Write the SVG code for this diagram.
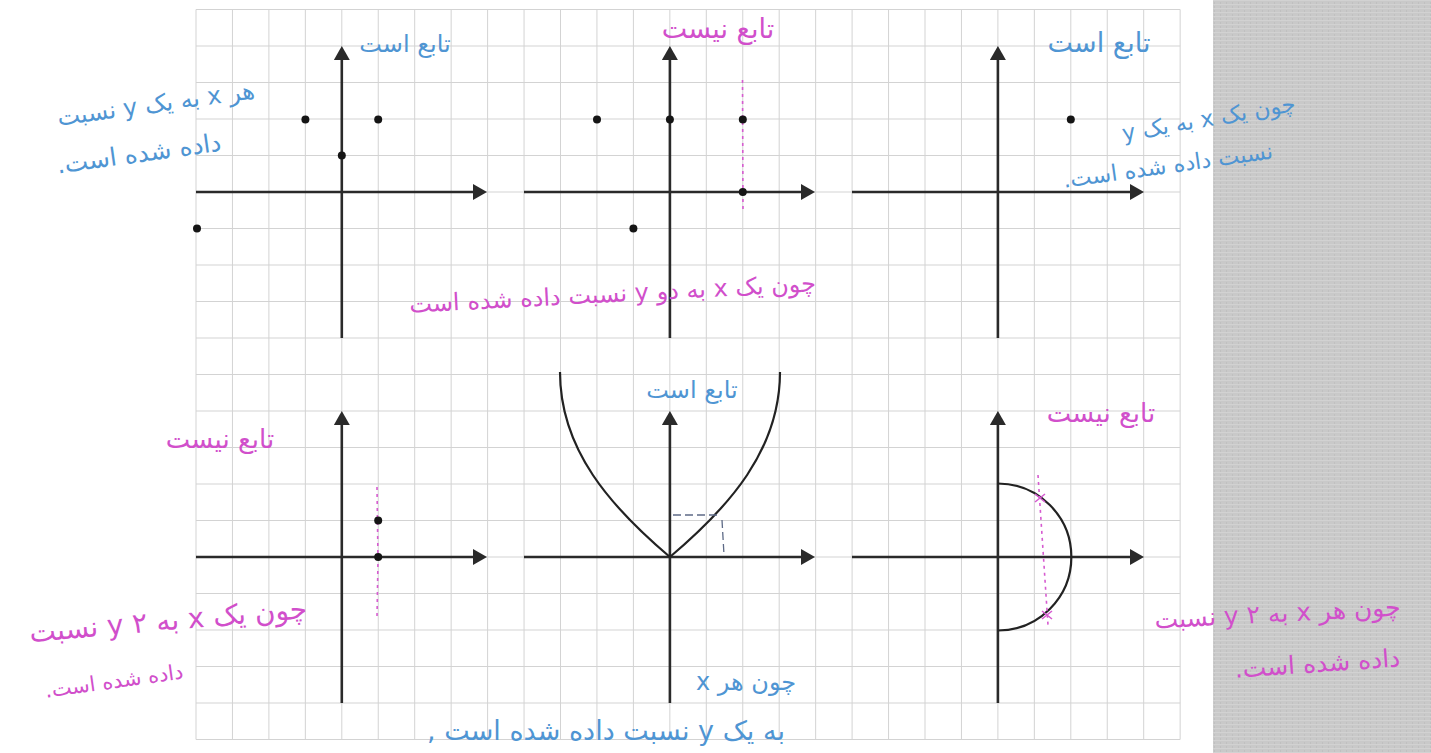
<svg xmlns="http://www.w3.org/2000/svg" width="1431" height="753" viewBox="0 0 1431 753">
<defs>
<style>
.grid line{stroke:#d3d3d3;stroke-width:1}
.axa{stroke:#2a2a2a;stroke-width:2.6;fill:none;marker-end:url(#ah)}
.pt{fill:#151515}
.crv{stroke:#222;stroke-width:2.2;fill:none}
.pk{stroke:#d65bd0;stroke-width:1.6;fill:none;stroke-dasharray:3 4}
.tb{fill:#4f95d3;font-family:"DejaVu Sans",sans-serif}
.tm{fill:#d14fcb;font-family:"DejaVu Sans",sans-serif}
text{direction:rtl;text-anchor:middle}
</style>
<marker id="ah" viewBox="0 0 14 16" refX="10" refY="8" markerWidth="14" markerHeight="16" markerUnits="userSpaceOnUse" orient="auto">
<path d="M0,0 L14,8 L0,16 Z" fill="#2a2a2a"/>
</marker>
<pattern id="paper" width="6" height="4" patternUnits="userSpaceOnUse">
<rect width="6" height="4" fill="#c9c9c9"/>
<rect width="6" height="1" fill="#d2d2d2"/>
<rect x="2" y="2" width="1" height="2" fill="#c0c0c0"/>
</pattern>
</defs>
<rect width="1431" height="753" fill="#ffffff"/>
<rect id="paper-edge" x="1213" y="0" width="218" height="753" fill="url(#paper)"/>
<g id="grid" class="grid">
<line x1="196" y1="9.5" x2="196" y2="739.5"/><line x1="232.45" y1="9.5" x2="232.45" y2="739.5"/><line x1="268.9" y1="9.5" x2="268.9" y2="739.5"/><line x1="305.35" y1="9.5" x2="305.35" y2="739.5"/><line x1="341.8" y1="9.5" x2="341.8" y2="739.5"/><line x1="378.25" y1="9.5" x2="378.25" y2="739.5"/><line x1="414.7" y1="9.5" x2="414.7" y2="739.5"/><line x1="451.15" y1="9.5" x2="451.15" y2="739.5"/><line x1="487.6" y1="9.5" x2="487.6" y2="739.5"/><line x1="524.05" y1="9.5" x2="524.05" y2="739.5"/><line x1="560.5" y1="9.5" x2="560.5" y2="739.5"/><line x1="596.95" y1="9.5" x2="596.95" y2="739.5"/><line x1="633.4" y1="9.5" x2="633.4" y2="739.5"/><line x1="669.85" y1="9.5" x2="669.85" y2="739.5"/><line x1="706.3" y1="9.5" x2="706.3" y2="739.5"/><line x1="742.75" y1="9.5" x2="742.75" y2="739.5"/><line x1="779.2" y1="9.5" x2="779.2" y2="739.5"/><line x1="815.65" y1="9.5" x2="815.65" y2="739.5"/><line x1="852.1" y1="9.5" x2="852.1" y2="739.5"/><line x1="888.55" y1="9.5" x2="888.55" y2="739.5"/><line x1="925" y1="9.5" x2="925" y2="739.5"/><line x1="961.45" y1="9.5" x2="961.45" y2="739.5"/><line x1="997.9" y1="9.5" x2="997.9" y2="739.5"/><line x1="1034.35" y1="9.5" x2="1034.35" y2="739.5"/><line x1="1070.8" y1="9.5" x2="1070.8" y2="739.5"/><line x1="1107.25" y1="9.5" x2="1107.25" y2="739.5"/><line x1="1143.7" y1="9.5" x2="1143.7" y2="739.5"/><line x1="1180.15" y1="9.5" x2="1180.15" y2="739.5"/>
<line x1="196" y1="9.5" x2="1180.15" y2="9.5"/><line x1="196" y1="46" x2="1180.15" y2="46"/><line x1="196" y1="82.5" x2="1180.15" y2="82.5"/><line x1="196" y1="119" x2="1180.15" y2="119"/><line x1="196" y1="155.5" x2="1180.15" y2="155.5"/><line x1="196" y1="192" x2="1180.15" y2="192"/><line x1="196" y1="228.5" x2="1180.15" y2="228.5"/><line x1="196" y1="265" x2="1180.15" y2="265"/><line x1="196" y1="301.5" x2="1180.15" y2="301.5"/><line x1="196" y1="338" x2="1180.15" y2="338"/><line x1="196" y1="374.5" x2="1180.15" y2="374.5"/><line x1="196" y1="411" x2="1180.15" y2="411"/><line x1="196" y1="447.5" x2="1180.15" y2="447.5"/><line x1="196" y1="484" x2="1180.15" y2="484"/><line x1="196" y1="520.5" x2="1180.15" y2="520.5"/><line x1="196" y1="557" x2="1180.15" y2="557"/><line x1="196" y1="593.5" x2="1180.15" y2="593.5"/><line x1="196" y1="630" x2="1180.15" y2="630"/><line x1="196" y1="666.5" x2="1180.15" y2="666.5"/><line x1="196" y1="703" x2="1180.15" y2="703"/><line x1="196" y1="739.5" x2="1180.15" y2="739.5"/>
</g>
<g id="connectors">
<line class="axa" x1="196" y1="192" x2="483" y2="192"/>
<line class="axa" x1="341.8" y1="338" x2="341.8" y2="50"/>
<line class="axa" x1="524" y1="192" x2="811" y2="192"/>
<line class="axa" x1="669.9" y1="338" x2="669.9" y2="50"/>
<line class="axa" x1="852" y1="192" x2="1140" y2="192"/>
<line class="axa" x1="997.9" y1="338" x2="997.9" y2="50"/>
<line class="axa" x1="196" y1="557" x2="483" y2="557"/>
<line class="axa" x1="341.8" y1="703" x2="341.8" y2="415"/>
<line class="axa" x1="524" y1="557" x2="811" y2="557"/>
<line class="axa" x1="669.9" y1="703" x2="669.9" y2="415"/>
<line class="axa" x1="852" y1="557" x2="1140" y2="557"/>
<line class="axa" x1="997.9" y1="703" x2="997.9" y2="415"/>
</g>
<g id="graph1">
<circle class="pt" cx="305.4" cy="119.5" r="4"/>
<circle class="pt" cx="378.2" cy="119.5" r="4"/>
<circle class="pt" cx="341.8" cy="155.5" r="4"/>
<circle class="pt" cx="197" cy="228.5" r="4"/>
<text class="tb" x="405" y="52" font-size="24">تابع است</text>
<text class="tb" x="157" y="112" font-size="24" transform="rotate(-8 157 112)">هر x به یک y نسبت</text>
<text class="tb" x="140" y="162" font-size="25" transform="rotate(-8 140 162)">داده شده است.</text>
</g>
<g id="graph2">
<path class="pk" d="M742.5 80 L743 212"/>
<circle class="pt" cx="597" cy="119.5" r="4"/>
<circle class="pt" cx="669.9" cy="119.5" r="4"/>
<circle class="pt" cx="742.8" cy="119.5" r="4"/>
<circle class="pt" cx="742.8" cy="192" r="4"/>
<circle class="pt" cx="633.4" cy="228.5" r="4"/>
<text class="tm" x="718" y="38" font-size="27">تابع نیست</text>
<text class="tm" x="613" y="302" font-size="24" transform="rotate(-3 613 302)">چون یک x به دو y نسبت داده شده است</text>
</g>
<g id="graph3">
<circle class="pt" cx="1070.8" cy="119.5" r="4"/>
<text class="tb" x="1099" y="52" font-size="27">تابع است</text>
<text class="tb" x="1210" y="126" font-size="22.5" transform="rotate(-10 1210 126)">چون یک x به یک y</text>
<text class="tb" x="1169" y="173" font-size="22.5" transform="rotate(-8 1169 173)">نسبت داده شده است.</text>
</g>
<g id="graph4">
<path class="pk" d="M377 487 L378 560 L377 617"/>
<circle class="pt" cx="378.2" cy="520.5" r="4"/>
<circle class="pt" cx="378.2" cy="557" r="4"/>
<text class="tm" x="220" y="448" font-size="26">تابع نیست</text>
<text class="tm" x="169" y="630" font-size="28" transform="rotate(-5 169 630)">چون یک x به ۲ y نسبت</text>
<text class="tm" x="115" y="688" font-size="21" transform="rotate(-8 115 688)">داده شده است.</text>
</g>
<g id="graph5">
<path class="crv" d="M669.9 557 C729 507 780 450 780 372"/>
<path class="crv" d="M669.9 557 C611 507 560 450 560 372"/>
<path d="M673 515 L718 515 M722 520 L724 555" stroke="#5d6a86" stroke-width="1.3" stroke-dasharray="8 4" fill="none"/>
<text class="tb" x="692" y="398" font-size="24">تابع است</text>
<text class="tb" x="746" y="690" font-size="24">چون هر x</text>
<text class="tb" x="606" y="740" font-size="27">به یک y نسبت داده شده است ,</text>
</g>
<g id="graph6">
<path class="crv" d="M997.9 483.5 A73.5 73.5 0 0 1 997.9 630.5"/>
<path class="pk" d="M1038 475 L1048 625"/>
<path d="M1035 494 L1045 502 M1045 494 L1035 502 M1042 611 L1052 619 M1052 611 L1042 619" stroke="#d65bd0" stroke-width="1.6"/>
<text class="tm" x="1101" y="422" font-size="26">تابع نیست</text>
<text class="tm" x="1278" y="622" font-size="25" transform="rotate(-3 1278 622)">چون هر x به ۲ y نسبت</text>
<text class="tm" x="1318" y="672" font-size="25" transform="rotate(-4 1318 672)">داده شده است.</text>
</g>
</svg>
